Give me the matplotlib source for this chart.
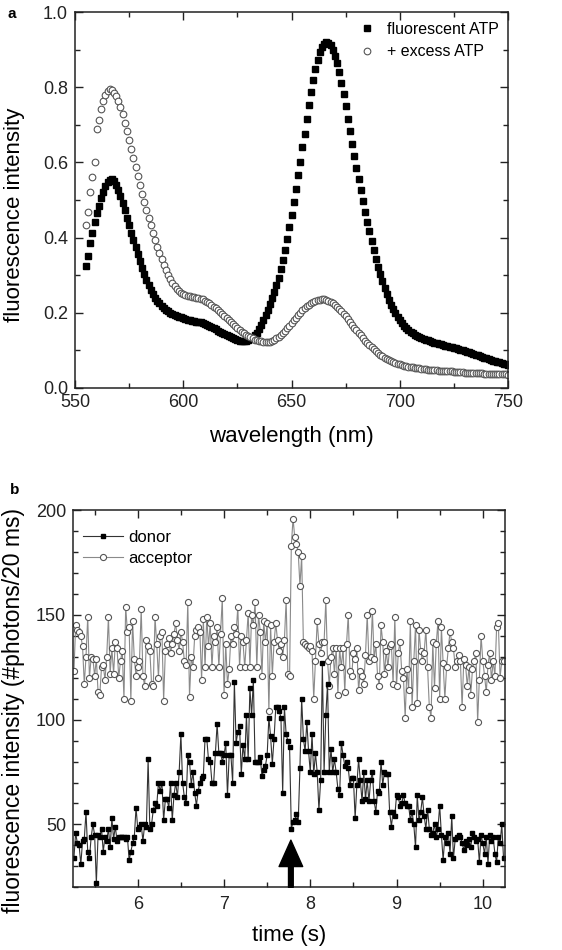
import numpy as np
import matplotlib
matplotlib.use("Agg")
import matplotlib.pyplot as plt
from matplotlib.ticker import MultipleLocator

plt.rcParams['font.family'] = ['Liberation Sans', 'DejaVu Sans']

# ---- panel a : emission spectra, 1 nm steps from 555 nm
wl_start, wl_step = 555, 1
atp_fluor = [
    0.325, 0.350, 0.385, 0.412, 0.440, 0.465, 0.485, 0.505, 0.522, 0.536,
    0.547, 0.553, 0.555, 0.550, 0.540, 0.527, 0.510, 0.492, 0.472, 0.452,
    0.432, 0.412, 0.394, 0.375, 0.356, 0.338, 0.320, 0.303, 0.288, 0.274,
    0.261, 0.250, 0.240, 0.232, 0.225, 0.218, 0.212, 0.207, 0.203, 0.199,
    0.196, 0.193, 0.191, 0.189, 0.187, 0.185, 0.183, 0.181, 0.180, 0.178,
    0.177, 0.176, 0.175, 0.174, 0.172, 0.170, 0.168, 0.165, 0.162, 0.159,
    0.156, 0.152, 0.149, 0.146, 0.143, 0.140, 0.137, 0.134, 0.131, 0.129,
    0.127, 0.125, 0.124, 0.123, 0.124, 0.126, 0.129, 0.133, 0.139, 0.146,
    0.156, 0.167, 0.180, 0.193, 0.207, 0.222, 0.238, 0.255, 0.273, 0.293,
    0.315, 0.340, 0.367, 0.396, 0.427, 0.460, 0.495, 0.530, 0.566, 0.602,
    0.640, 0.677, 0.715, 0.752, 0.788, 0.820, 0.850, 0.874, 0.894, 0.908,
    0.916, 0.920, 0.918, 0.912, 0.900, 0.884, 0.864, 0.840, 0.812, 0.782,
    0.750, 0.717, 0.684, 0.650, 0.617, 0.585, 0.555, 0.526, 0.497, 0.469,
    0.442, 0.416, 0.391, 0.367, 0.344, 0.322, 0.302, 0.283, 0.265, 0.249,
    0.234, 0.221, 0.209, 0.198, 0.188, 0.180, 0.172, 0.165, 0.159, 0.154,
    0.149, 0.145, 0.141, 0.138, 0.135, 0.132, 0.130, 0.128, 0.126, 0.124,
    0.122, 0.120, 0.118, 0.117, 0.115, 0.114, 0.112, 0.111, 0.109, 0.108,
    0.106, 0.105, 0.103, 0.101, 0.100, 0.098, 0.096, 0.094, 0.092, 0.090,
    0.088, 0.086, 0.084, 0.082, 0.080, 0.078, 0.076, 0.074, 0.072, 0.071,
    0.069, 0.067, 0.065, 0.064, 0.062, 0.060,
]
atp_excess = [
    0.432, 0.468, 0.520, 0.560, 0.600, 0.690, 0.714, 0.743, 0.763, 0.780,
    0.790, 0.795, 0.792, 0.786, 0.776, 0.764, 0.748, 0.728, 0.706, 0.684,
    0.660, 0.636, 0.612, 0.588, 0.564, 0.540, 0.516, 0.494, 0.472, 0.452,
    0.432, 0.412, 0.393, 0.375, 0.358, 0.342, 0.327, 0.313, 0.300, 0.289,
    0.279, 0.271, 0.264, 0.258, 0.253, 0.249, 0.246, 0.244, 0.243, 0.242,
    0.241, 0.240, 0.239, 0.237, 0.235, 0.232, 0.229, 0.225, 0.221, 0.216,
    0.211, 0.206, 0.201, 0.196, 0.190, 0.185, 0.180, 0.174, 0.169, 0.164,
    0.159, 0.154, 0.149, 0.145, 0.141, 0.137, 0.134, 0.131, 0.128, 0.126,
    0.124, 0.123, 0.122, 0.121, 0.121, 0.122, 0.124, 0.127, 0.131, 0.135,
    0.140, 0.146, 0.152, 0.158, 0.165, 0.172, 0.179, 0.186, 0.193, 0.200,
    0.206, 0.212, 0.217, 0.221, 0.225, 0.228, 0.231, 0.233, 0.234, 0.235,
    0.235, 0.234, 0.232, 0.229, 0.225, 0.221, 0.216, 0.210, 0.204, 0.197,
    0.190, 0.183, 0.175, 0.168, 0.160, 0.153, 0.146, 0.139, 0.132, 0.125,
    0.119, 0.113, 0.107, 0.102, 0.097, 0.092, 0.088, 0.084, 0.080, 0.077,
    0.074, 0.071, 0.068, 0.066, 0.064, 0.062, 0.060, 0.058, 0.057, 0.056,
    0.055, 0.054, 0.053, 0.052, 0.051, 0.050, 0.049, 0.049, 0.048, 0.047,
    0.047, 0.046, 0.046, 0.045, 0.045, 0.044, 0.044, 0.043, 0.043, 0.043,
    0.042, 0.042, 0.041, 0.041, 0.041, 0.040, 0.040, 0.040, 0.039, 0.039,
    0.039, 0.038, 0.038, 0.038, 0.037, 0.037, 0.037, 0.036, 0.036, 0.036,
    0.036, 0.035, 0.035, 0.035, 0.035, 0.034,
]
wavelength = wl_start + wl_step * np.arange(len(atp_fluor))

# ---- panel b : single molecule time trace, 20 ms bins
t_start, t_bin = 5.26, 0.02
donor = [
    34, 46, 41, 40, 31, 42, 43, 56, 37, 34, 44, 50, 45, 22, 45, 44, 48, 37, 44, 42,
    48, 39, 53, 43, 49, 42, 44, 44, 44, 44, 43, 44, 33, 37, 41, 44, 58, 48, 49, 50,
    42, 50, 49, 81, 48, 50, 57, 60, 59, 70, 66, 70, 52, 62, 62, 58, 70,
    52, 64, 70, 63, 75, 93, 70, 63, 60, 83, 80, 69, 75, 65, 59, 66, 70, 72, 73, 91,
    91, 81, 80, 70, 70, 84, 98, 84, 84, 80, 83, 89, 64, 83, 83, 70, 118, 89, 94, 97,
    74, 88, 81, 102, 81, 115, 102, 119, 80, 80, 80, 82, 73, 76, 78, 83, 101, 92, 79, 91,
    106,
    106, 104, 101, 65, 106, 93, 90, 87, 48, 51, 52, 55, 51, 77, 110, 91, 85, 99, 85, 75,
    93, 74, 84, 75, 57, 71, 127, 75, 102, 117, 75, 86, 75, 81, 75, 67, 64, 89, 83, 78,
    80, 77, 69, 72, 72, 53, 69, 81, 71, 61, 75, 62, 71, 61,
    71, 75, 61, 56, 66, 65, 80, 69, 75, 74, 74, 56, 49, 56, 54, 64, 63, 59, 60, 64,
    60, 59, 59, 52, 56, 50, 39, 64, 52, 56, 63, 54, 48, 57, 48, 45, 46, 50, 44, 48,
    59, 45, 33, 44, 41, 46, 36, 54, 34, 43, 44, 45, 44, 41, 38, 42, 40, 43, 39,
    46, 44, 42, 43, 32, 45, 41, 36, 44, 31, 45, 42, 44, 36, 32, 44, 41, 50, 34,
]
acceptor = [
    123, 145, 143, 142, 140, 135, 117, 130, 149, 120, 130, 129, 121, 129, 113, 112, 125, 126, 119, 130,
    149, 122, 134, 122, 137, 134, 120, 128, 133, 110, 154, 142, 144, 109, 147, 129, 121, 125, 128, 153,
    121, 116, 138, 135, 133, 117, 116, 149, 136, 120, 140, 142, 109, 133, 136, 139, 132,
    136, 141, 146, 138, 133, 142, 137, 128, 126, 156, 111, 130, 125, 140, 143, 144, 142, 119, 148, 125,
    149, 135, 146, 125, 140, 137, 144, 125, 141, 158, 112, 136, 117, 124, 140, 136, 144, 141, 154, 125,
    140, 137, 125, 138, 151, 125, 150, 145, 156, 125, 150, 142, 121, 147, 137, 146, 104, 145, 121, 137,
    146,
    138, 133, 136, 130, 138, 157, 122, 121, 183, 196, 187, 184, 180, 164, 178, 137, 136, 135, 134, 135,
    133, 110, 128, 147, 136, 132, 137, 137, 157, 128, 116, 130, 134, 122, 134, 112, 134, 125, 134, 113,
    136, 150, 123, 121, 132, 129, 134, 114, 123, 121, 117, 131, 150, 128,
    130, 152, 129, 136, 121, 116, 145, 137, 122, 133, 125, 135, 136, 117, 149, 116, 132, 137, 123, 120,
    101, 124, 114, 147, 106, 128, 145, 108, 143, 133, 128, 132, 143, 125, 106, 101, 137, 115, 136, 147,
    110, 144, 127, 110, 125, 134, 142, 137, 134, 125, 128, 131, 128, 106, 129, 126, 116, 125, 112,
    124, 128, 132, 99, 119, 140, 128, 121, 113, 126, 132, 119, 128, 121, 144, 146, 120, 128, 128,
]
time = t_start + t_bin * np.arange(len(donor))

arrow_t, arrow_tip = 7.775, 42.5


def style(ax, xpad):
    for s in ax.spines.values():
        s.set_linewidth(1.1)
        s.set_color('#222222')
    ax.tick_params(which='both', direction='in', top=True, right=True,
                   labelsize=13, colors='#222222')
    ax.tick_params(axis='y', pad=5)
    ax.tick_params(axis='x', pad=xpad)
    ax.tick_params(which='major', length=6, width=1)
    ax.tick_params(which='minor', length=3.5, width=1)


fig = plt.figure(figsize=(5.62, 9.5), dpi=100)

ax1 = fig.add_axes([0.1335, 0.592, 0.7705, 0.395])
ax1.plot(wavelength, atp_fluor, ls='none', marker='s', ms=4.3, color='black',
         label='fluorescent ATP')
ax1.plot(wavelength, atp_excess, ls='none', marker='o', ms=4.8, mfc='white',
         mec='#555555', mew=0.8, label='+ excess ATP')
ax1.set_xlim(550, 750)
ax1.set_ylim(0, 1.0)
ax1.xaxis.set_major_locator(MultipleLocator(50))
ax1.xaxis.set_minor_locator(MultipleLocator(25))
ax1.yaxis.set_major_locator(MultipleLocator(0.2))
ax1.yaxis.set_minor_locator(MultipleLocator(0.1))
style(ax1, 4.5)
ax1.set_xlabel('wavelength (nm)', fontsize=16, labelpad=11)
ax1.set_ylabel('fluorescence intensity', fontsize=16)
ax1.yaxis.set_label_coords(-0.115, 0.46)
ax1.legend(loc='upper right', frameon=False, fontsize=11.5, handletextpad=0.6,
           borderaxespad=0.2, labelspacing=0.45, handlelength=1.2)

ax2 = fig.add_axes([0.130, 0.066, 0.769, 0.397])
la, = ax2.plot(time, acceptor, '-o', color='#8a8a8a', lw=0.8, ms=4.4,
               mfc='white', mec='#555555', mew=0.8, label='acceptor')
ld, = ax2.plot(time, donor, '-s', color='#333333', lw=0.8, ms=3.4,
               mfc='black', mec='black', label='donor')
ax2.annotate('', xy=(arrow_t, arrow_tip), xytext=(arrow_t, 20),
             arrowprops=dict(facecolor='black', edgecolor='black', width=3.4,
                             headwidth=17, headlength=19, shrink=0))
ax2.set_xlim(5.25, 10.26)
ax2.set_ylim(20, 200)
ax2.xaxis.set_major_locator(MultipleLocator(1))
ax2.xaxis.set_minor_locator(MultipleLocator(0.5))
ax2.yaxis.set_major_locator(MultipleLocator(50))
ax2.yaxis.set_minor_locator(MultipleLocator(10))
style(ax2, 6)
ax2.set_xlabel('time (s)', fontsize=16, labelpad=9)
ax2.set_ylabel('fluorescence intensity (#photons/20 ms)', fontsize=16.5)
ax2.yaxis.set_label_coords(-0.111, 0.47)
ax2.legend(handles=[ld, la], loc='upper left', bbox_to_anchor=(0.012, 0.96),
           frameon=False, fontsize=12, handlelength=2.4, handletextpad=0.3,
           borderaxespad=0, labelspacing=0.35, borderpad=0.3)

fig.text(8 / 562, 1 - 14 / 950, 'a', fontsize=11, fontweight='bold', va='center')
fig.text(10 / 562, 1 - 490 / 950, 'b', fontsize=11, fontweight='bold', va='center')

fig.savefig('out.png', dpi=100)
